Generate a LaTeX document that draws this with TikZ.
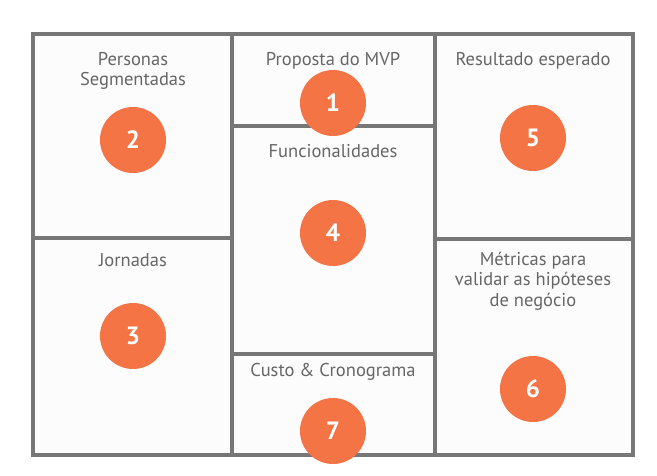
\documentclass[tikz,border=0pt]{standalone}
\usepackage{fontspec}
\setmainfont{PT Sans}
\definecolor{framegray}{HTML}{777777}
\definecolor{txtgray}{HTML}{666666}
\definecolor{dotorange}{HTML}{F47445}
\definecolor{panelbg}{HTML}{FCFCFC}
\tikzset{
  cell/.style={draw=framegray, line width=4pt},
  lbl/.style={text=txtgray, font=\fontsize{18.5}{20.5}\selectfont, align=center, inner sep=0pt},
  num/.style={circle, fill=dotorange, minimum size=66pt, inner sep=0pt, text=white, font=\fontsize{25}{25}\selectfont\bfseries}
}
\begin{document}
\begin{tikzpicture}[x=1pt,y=-1pt]
\useasboundingbox (0,0) rectangle (657,475);
\fill[white] (0,0) rectangle (657,475);
\fill[panelbg] (33,34) rectangle (633,455);
% cells
\draw[cell] (33,34) rectangle (232,238);
\draw[cell] (33,238) rectangle (232,455);
\draw[cell] (232,34) rectangle (435,126);
\draw[cell] (232,126) rectangle (435,354);
\draw[cell] (232,354) rectangle (435,455);
\draw[cell] (435,34) rectangle (633,239);
\draw[cell] (435,239) rectangle (633,455);
% labels
\node[lbl] (t2) at (133,71) {Personas\\Segmentadas};
\node[lbl] (t1) at (333,61) {Proposta do MVP};
\node[lbl] (t5) at (533,61) {Resultado esperado};
\node[lbl] (t4) at (333,151) {Funcionalidades};
\node[lbl] (t3) at (133,260) {Jornadas};
\node[lbl] (t7) at (333,372) {Custo \& Cronograma};
\node[lbl] (t6) at (533,281) {Métricas para\\validar as hipóteses\\de negócio};
% numbers
\node[num] (n1) at (333,103) {1};
\node[num] (n2) at (133,140) {2};
\node[num] (n3) at (133,336) {3};
\node[num] (n4) at (333,233) {4};
\node[num] (n5) at (533,138) {5};
\node[num] (n6) at (533,389) {6};
\node[num] (n7) at (333,431) {7};
\end{tikzpicture}
\end{document}
